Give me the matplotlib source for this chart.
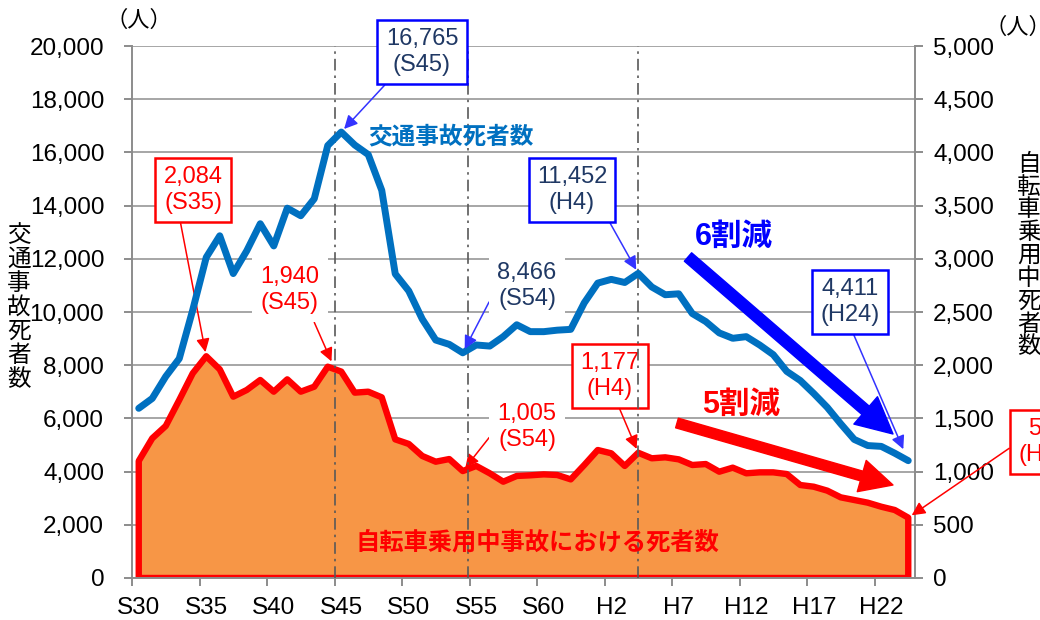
import numpy as np
import matplotlib
matplotlib.use("Agg")
import matplotlib.pyplot as plt
from matplotlib.ticker import FuncFormatter, FixedLocator
from matplotlib.patches import ArrowStyle

plt.rcParams['font.family'] = ['Liberation Sans', 'Noto Sans CJK JP', 'DejaVu Sans']

# ---------------- data ----------------
years = [f"S{n}" for n in range(30, 64)] + [f"H{n}" for n in range(1, 25)]
traffic_deaths = [6379, 6751, 7575, 8248, 10079, 12055, 12865, 11445, 12301, 13318,
                  12484, 13904, 13618, 14256, 16257, 16765, 16278, 15918, 14574, 11432,
                  10792, 9734, 8945, 8783, 8466, 8760, 8719, 9073, 9520, 9262,
                  9261, 9317, 9347, 10344, 11086, 11227, 11109, 11452, 10942, 10649,
                  10684, 9943, 9640, 9214, 9012, 9073, 8757, 8396, 7768, 7425,
                  6937, 6415, 5796, 5209, 4979, 4948, 4691, 4411]
bicycle_deaths = [1100, 1313, 1429, 1673, 1924, 2084, 1961, 1704, 1767, 1861,
                  1751, 1867, 1751, 1798, 1986, 1940, 1742, 1751, 1698, 1303,
                  1260, 1147, 1093, 1118, 1005, 1053, 984, 905, 959, 965,
                  974, 968, 927, 1062, 1203, 1172, 1053, 1177, 1125, 1134,
                  1115, 1062, 1071, 999, 1037, 984, 993, 993, 977, 874,
                  858, 821, 758, 733, 708, 670, 639, 567]
tick_labels = ["S30", "S35", "S40", "S45", "S50", "S55", "S60", "H2", "H7", "H12", "H17", "H22"]
left_ticks = list(range(0, 20001, 2000))
right_ticks = list(range(0, 5001, 500))

# ---------------- figure ----------------
W, H = 1040, 620
fig = plt.figure(figsize=(W / 100, H / 100), dpi=100)
fig.patch.set_facecolor('white')

def fp(x, y):
    """pixel (from top-left) -> figure fraction"""
    return (x / W, 1 - y / H)

ax = fig.add_axes([132 / W, 42 / H, 783 / W, 532 / H])
ax2 = ax.twinx()
ax.set_zorder(ax2.get_zorder() + 1)
ax.patch.set_visible(False)

xs = np.arange(len(years))
ax.set_xlim(-0.5, len(years) - 0.5)
ax.set_ylim(0, 20000)
ax2.set_ylim(0, 5000)

GRID = '#a6a6a6'
AXC = '#8c8c8c'

# grid on the (lower) secondary axis so the area hides it
ax2.set_axisbelow(True)
ax2.yaxis.grid(True, color=GRID, lw=1.4)
ax.grid(False)

# bicycle deaths area
ax2.fill(np.r_[xs[0], xs, xs[-1]], np.r_[0, bicycle_deaths, 0],
         facecolor='#f79646', edgecolor='#ff0000', lw=4.6, joinstyle='round', zorder=2)

# traffic deaths line
ax.plot(xs, traffic_deaths, color='#0070c0', lw=5.0,
        solid_joinstyle='round', solid_capstyle='round', zorder=4)

# reference dash-dot lines
iS45, iS54, iH4, iS35, iH24 = (years.index('S45'), years.index('S54'), years.index('H4'),
                              years.index('S35'), years.index('H24'))
for xv in (iS45 - 0.5, iS54 + 0.4, iH4):
    ax.axvline(xv, color='#595959', lw=1.2, ls=(0, (7, 3, 1.5, 3)), zorder=3)

# axes styling
for a in (ax, ax2):
    a.spines['top'].set_visible(False)
    for s in ('left', 'right', 'bottom'):
        a.spines[s].set_color(AXC)
        a.spines[s].set_linewidth(1.4)
ax2.spines['left'].set_visible(False)
ax.spines['right'].set_visible(False)
ax2.spines['bottom'].set_visible(False)

ax.xaxis.set_major_locator(FixedLocator(np.arange(-0.5, len(years) - 0.5, 5)))
ax.xaxis.set_minor_locator(FixedLocator([years.index(t) for t in tick_labels]))
ax.xaxis.set_major_formatter(FuncFormatter(lambda v, p: ''))
ax.set_xticklabels(tick_labels, minor=True)
ax.tick_params(axis='x', which='major', length=6, width=1.4, color=AXC, direction='out')
ax.tick_params(axis='x', which='minor', length=0, pad=14, labelsize=17.5)

ax.set_yticks(left_ticks)
ax.yaxis.set_major_formatter(FuncFormatter(lambda v, p: f"{int(v):,}"))
ax.tick_params(axis='y', length=6, width=1.4, color=AXC, direction='out', pad=14, labelsize=17.5)
ax2.set_yticks(right_ticks)
ax2.yaxis.set_major_formatter(FuncFormatter(lambda v, p: f"{int(v):,}"))
ax2.tick_params(axis='y', length=6, width=1.4, color=AXC, direction='out', pad=7, labelsize=17.5)

# axis titles
fig.text(*fp(19, 308), "\n".join("交通事故死者数"), ha='center', va='center', fontsize=17, linespacing=1.12)
fig.text(*fp(1029, 256), "\n".join("自転車乗用中死者数"), ha='center', va='center', fontsize=17, linespacing=1.05)
fig.text(*fp(139, 21), "（人）", ha='center', va='center', fontsize=16)
fig.text(*fp(1018, 28), "（人）", ha='center', va='center', fontsize=16)

NAVY = '#1f3864'
BLUE = '#0000ff'
ARROW_BLUE = '#3333ff'
RED = '#ff0000'

def box_note(axis, text, idx, val, pos, color, edge, arrow_color, relpos, shrinkB=3):
    bbox = dict(boxstyle='square,pad=0.35', fc='white', ec=edge if edge else 'none', lw=1.8)
    axis.annotate(text, xy=(idx, val), xycoords='data', xytext=fp(*pos), textcoords='figure fraction',
                  ha='center', va='center', fontsize=17, color=color, linespacing=1.25,
                  bbox=bbox, annotation_clip=False, zorder=8,
                  arrowprops=dict(arrowstyle='-|>', color=arrow_color, lw=1.1,
                                  mutation_scale=20, relpos=relpos, shrinkA=0, shrinkB=shrinkB))

# blue annotations
box_note(ax, "16,765\n(S45)", iS45, traffic_deaths[iS45], (422, 52), NAVY, BLUE, ARROW_BLUE, (0.1, 0.0))
box_note(ax, "11,452\n(H4)", iH4, traffic_deaths[iH4], (572, 190), NAVY, BLUE, ARROW_BLUE, (0.97, 0.0))
box_note(ax, "8,466\n(S54)", iS54, traffic_deaths[iS54], (527, 286), NAVY, None, ARROW_BLUE, (0.0, 0.5))
box_note(ax, "4,411\n(H24)", iH24, traffic_deaths[iH24], (850, 302), NAVY, BLUE, ARROW_BLUE, (0.5, 0.0), shrinkB=9)

# red annotations
box_note(ax2, "2,084\n(S35)", iS35, bicycle_deaths[iS35], (193, 190), RED, RED, RED, (0.26, 0.0))
box_note(ax2, "1,940\n(S45)", iS45 - 0.6, bicycle_deaths[iS45] + 60, (290, 290), RED, None, RED, (0.85, 0.0))
box_note(ax2, "1,005\n(S54)", iS54, bicycle_deaths[iS54], (527, 427), RED, None, RED, (0.0, 0.5))
box_note(ax2, "1,177\n(H4)", iH4, bicycle_deaths[iH4], (610, 376), RED, RED, RED, (0.6, 0.0))
box_note(ax2, "567\n(H24)", iH24, bicycle_deaths[iH24], (1048, 442), RED, RED, RED, (0.0, 0.5))

# series labels
fig.text(*fp(368, 137), "交通事故死者数", ha='left', va='center', fontsize=17, fontweight='bold', color='#0070c0')
fig.text(*fp(537, 543), "自転車乗用中事故における死者数", ha='center', va='center', fontsize=17.5,
         fontweight='bold', color=RED)
fig.text(*fp(734, 237), "6割減", ha='center', va='center', fontsize=22, fontweight='bold', color=BLUE)
fig.text(*fp(741, 405), "5割減", ha='center', va='center', fontsize=22, fontweight='bold', color=RED)

# big trend arrows
big = ArrowStyle('simple', head_length=2.6, head_width=2.6, tail_width=0.8)
ax.annotate('', xy=fp(893, 434), xycoords='figure fraction', xytext=fp(688, 257), textcoords='figure fraction',
            arrowprops=dict(arrowstyle=big, color=BLUE, mutation_scale=10, shrinkA=0, shrinkB=0),
            annotation_clip=False, zorder=7)
ax.annotate('', xy=fp(893, 485), xycoords='figure fraction', xytext=fp(677, 423), textcoords='figure fraction',
            arrowprops=dict(arrowstyle=big, color=RED, mutation_scale=9, shrinkA=0, shrinkB=0),
            annotation_clip=False, zorder=7)

fig.savefig("out.png", dpi=100, facecolor='white')
